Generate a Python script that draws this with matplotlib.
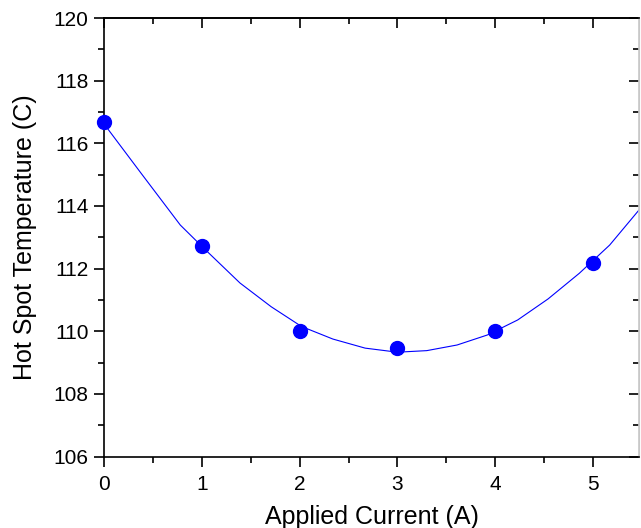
import matplotlib
matplotlib.use("Agg")
import matplotlib.pyplot as plt
from matplotlib.ticker import MultipleLocator

plt.rcParams['font.family'] = ['Liberation Sans', 'DejaVu Sans']

# measured points
current = [0, 1, 2, 3, 4, 5]
temperature = [116.67, 112.72, 110.0, 109.45, 110.0, 112.17]

# fitted curve
fit_x = [0, 0.38, 0.78, 1.03, 1.39, 1.71, 2.02, 2.34, 2.67, 3.0, 3.30,
         3.61, 3.92, 4.23, 4.54, 4.86, 5.17, 5.47]
fit_y = [116.62, 115.04, 113.39, 112.62, 111.54, 110.78, 110.15, 109.75,
         109.46, 109.33, 109.38, 109.56, 109.88, 110.36, 111.03, 111.85,
         112.75, 113.87]

fig = plt.figure(figsize=(6.41, 5.28), dpi=100)
ax = fig.add_axes([104 / 641, 71.5 / 528, 535 / 641, 438.5 / 528])

ax.plot(fit_x, fit_y, color='#0000ff', linewidth=0.8)
ax.plot(current, temperature, 'o', color='#0000ff', markersize=10,
        clip_on=False, zorder=3)

ax.set_xlim(0, 5.47)
ax.set_ylim(106, 120)
ax.xaxis.set_major_locator(MultipleLocator(1))
ax.xaxis.set_minor_locator(MultipleLocator(0.5))
ax.yaxis.set_major_locator(MultipleLocator(2))
ax.yaxis.set_minor_locator(MultipleLocator(1))

ax.tick_params(which='major', direction='out', length=7, width=1.2,
               labelsize=15, pad=4)
ax.tick_params(axis='x', which='major', pad=6)
ax.tick_params(which='minor', direction='out', length=4, width=1.2)

for s in ['left', 'bottom', 'top']:
    ax.spines[s].set_linewidth(1.2)
ax.spines['right'].set_color('#c8c8c8')
ax.spines['right'].set_linewidth(1.2)

# inward ticks on top and right
top = ax.secondary_xaxis('top')
top.xaxis.set_major_locator(MultipleLocator(1))
top.xaxis.set_minor_locator(MultipleLocator(0.5))
top.tick_params(which='major', direction='in', length=7, width=1.2, labeltop=False)
top.tick_params(which='minor', direction='in', length=4, width=1.2)
top.spines['top'].set_linewidth(1.2)

right = ax.secondary_yaxis('right')
right.yaxis.set_major_locator(MultipleLocator(2))
right.yaxis.set_minor_locator(MultipleLocator(1))
right.tick_params(which='major', direction='in', length=7, width=1.2, labelright=False)
right.tick_params(which='minor', direction='in', length=4, width=1.2)
right.spines['right'].set_color('#c8c8c8')

ax.set_xlabel('Applied Current (A)', fontsize=18, labelpad=8)
ax.set_ylabel('Hot Spot Temperature (C)', fontsize=18, labelpad=12)

fig.savefig('out.png', dpi=100)
